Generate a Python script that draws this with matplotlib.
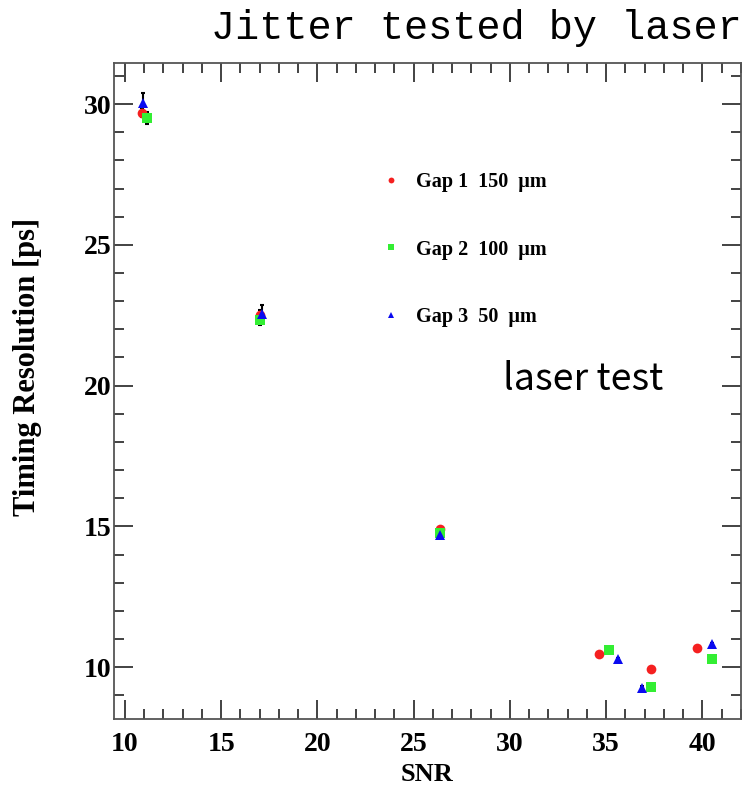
import matplotlib
matplotlib.use('Agg')
import matplotlib.pyplot as plt
import matplotlib.ticker as mticker
from matplotlib.lines import Line2D

# Data (SNR vs timing resolution)
snr_gap1 = [10.9, 17.0, 26.35, 34.65, 37.35, 39.7]
res_gap1 = [29.7, 22.5, 14.9, 10.45, 9.95, 10.68]
err_gap1 = [0.15, 0.2, 0.05, 0.05, 0.05, 0.05]

snr_gap2 = [11.15, 17.0, 26.35, 35.15, 37.35, 40.5]
res_gap2 = [29.5, 22.32, 14.75, 10.6, 9.3, 10.3]
err_gap2 = [0.22, 0.15, 0.05, 0.05, 0.05, 0.05]

snr_gap3 = [10.95, 17.1, 26.35, 35.6, 36.85, 40.5]
res_gap3 = [30.05, 22.55, 14.7, 10.28, 9.27, 10.82]
err_gap3 = [0.33, 0.3, 0.05, 0.05, 0.05, 0.05]

labels = ['Gap 1  150  \u03bcm', 'Gap 2  100  \u03bcm', 'Gap 3  50  \u03bcm']

RED = '#f52020'
GREEN = '#33ee33'
BLUE = '#0a0af0'
SERIF = 'Liberation Serif'

fig = plt.figure(figsize=(7.49, 7.87), dpi=100)
ax = fig.add_axes([0.1522, 0.0858, 0.8368, 0.8338])

series = [
    (snr_gap1, res_gap1, err_gap1, 'o', RED),
    (snr_gap2, res_gap2, err_gap2, 's', GREEN),
    (snr_gap3, res_gap3, err_gap3, '^', BLUE),
]
for x, y, e, m, c in series:
    ax.errorbar(x, y, yerr=e, fmt='none', ecolor='black', elinewidth=1.5,
                capsize=1.5, capthick=1.5, zorder=2)
for x, y, e, m, c in series:
    ax.plot(x, y, linestyle='none', marker=m, color=c, markersize=7,
            markeredgewidth=0, zorder=3)

ax.set_xlim(9.43, 42.0)
ax.set_ylim(8.14, 31.45)
ax.xaxis.set_major_locator(mticker.MultipleLocator(5))
ax.xaxis.set_minor_locator(mticker.MultipleLocator(1))
ax.yaxis.set_major_locator(mticker.MultipleLocator(5))
ax.yaxis.set_minor_locator(mticker.MultipleLocator(1))
ax.tick_params(which='both', direction='in', top=True, right=True,
               color='#222222', width=1.2)
ax.tick_params(which='major', length=14, labelsize=20)
ax.tick_params(which='minor', length=7)
ax.tick_params(axis='y', which='major', pad=2)
ax.tick_params(axis='x', which='major', pad=9)
for lab in ax.get_xticklabels() + ax.get_yticklabels():
    lab.set_fontfamily(SERIF)
    lab.set_fontweight('bold')
for s in ax.spines.values():
    s.set_color('#555555')
    s.set_linewidth(1.3)

ax.set_xlabel('SNR', fontsize=19, fontfamily=SERIF, fontweight='bold', labelpad=4)
ax.set_ylabel('Timing Resolution [ps]', fontsize=22, fontfamily=SERIF,
              fontweight='bold')
ax.yaxis.set_label_coords(-0.115, 0.537)

handles = [Line2D([], [], linestyle='none', marker=m, color=c, markersize=7,
                  markeredgewidth=0) for _, _, _, m, c in series]
ax.legend(handles, labels, loc='upper left', bbox_to_anchor=(0.4265, 0.834),
          frameon=False, markerscale=0.6, handlelength=1.0, handletextpad=0.72,
          labelspacing=2.35, borderpad=0, borderaxespad=0,
          prop={'family': SERIF, 'weight': 'bold', 'size': 14.5})

ax.text(29.67, 19.86, 'laser test', fontsize=27, fontfamily='Noto Sans CJK SC',
        ha='left', va='baseline', color='black')

fig.text(0.99, 0.988, 'Jitter tested by laser', fontsize=29,
         fontfamily='Liberation Mono', ha='right', va='top', color='black')

fig.savefig('out.png', dpi=100, facecolor='white')
